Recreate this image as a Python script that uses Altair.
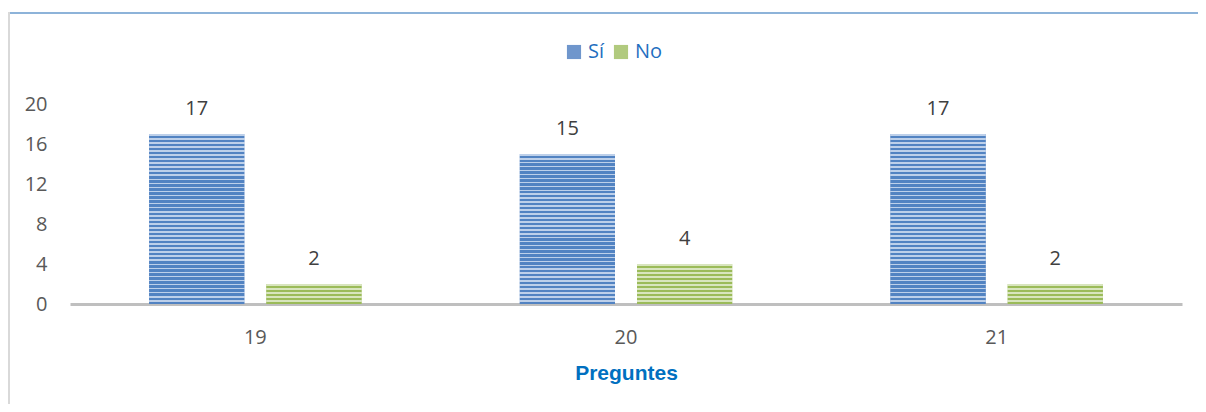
import altair as alt
import pandas as pd

preguntas = ["19", "20", "21"]
respuestas = ["Sí", "No"]
si_vals = [17, 15, 17]
no_vals = [2, 4, 2]

rows = []
for p, s, n in zip(preguntas, si_vals, no_vals):
    rows.append({"pregunta": p, "respuesta": "Sí", "valor": s})
    rows.append({"pregunta": p, "respuesta": "No", "valor": n})
df = pd.DataFrame(rows)

dark = {"Sí": "#5283C2", "No": "#9BBB59"}
light = {"Sí": "#BDD0EA", "No": "#D8E5BE"}
solid = {"Sí": "#6F96CC", "No": "#B1CA7E"}

W, H = 1112, 200

x_enc = alt.X("pregunta:N",
              scale=alt.Scale(domain=preguntas, paddingInner=0, paddingOuter=0),
              axis=alt.Axis(title="Preguntes", labelAngle=0, ticks=False,
                            domain=True, domainColor="#BFBFBF", domainWidth=3,
                            labelFont="Open Sans", labelFontSize=20,
                            labelColor="#595959", labelPadding=23,
                            titleFont="Liberation Sans", titleFontSize=21,
                            titleFontWeight="bold", titleColor="#0070C0",
                            titlePadding=15))
xo_enc = alt.XOffset("respuesta:N",
                     scale=alt.Scale(domain=respuestas, paddingInner=0.188,
                                     paddingOuter=0.675))
y_enc = alt.Y("valor:Q",
              scale=alt.Scale(domain=[0, 20], nice=False),
              axis=alt.Axis(title=None, values=[0, 4, 8, 12, 16, 20],
                            domain=False, ticks=False, grid=False,
                            labelFont="Open Sans", labelFontSize=20,
                            labelColor="#595959", labelPadding=23))

base = alt.Chart(df)

bars = base.mark_bar().encode(
    x=x_enc, xOffset=xo_enc, y=y_enc,
    color=alt.Color("respuesta:N",
                    scale=alt.Scale(domain=respuestas,
                                    range=[solid["Sí"], solid["No"]]),
                    legend=alt.Legend(title=None, orient="none",
                                      direction="horizontal",
                                      legendX=494, legendY=-62,
                                      symbolType="square", symbolSize=200,
                                      symbolStrokeWidth=0,
                                      labelFont="Open Sans", labelFontSize=20,
                                      labelColor="#1F6FC0", columnPadding=6,
                                      labelOffset=4)),
)


def stripes(r, value):
    n = max(1, round(value * 2.5))
    stops = []
    for k in range(n):
        a = k / n
        b = (k + 0.4) / n
        c = (k + 1) / n
        stops += [
            {"offset": a, "color": light[r]},
            {"offset": b, "color": light[r]},
            {"offset": b, "color": dark[r]},
            {"offset": c, "color": dark[r]},
        ]
    return {"gradient": "linear", "x1": 0, "y1": 0, "x2": 0, "y2": 1,
            "stops": stops}


layers = [bars]
for row in rows:
    layers.append(
        base.transform_filter(
            (alt.datum.pregunta == row["pregunta"]) &
            (alt.datum.respuesta == row["respuesta"])
        ).mark_bar(fill=stripes(row["respuesta"], row["valor"])).encode(
            x=x_enc, xOffset=xo_enc, y=y_enc)
    )

labels = base.mark_text(dy=-19, baseline="alphabetic", font="Open Sans",
                        fontSize=20, color="#404040").encode(
    x=x_enc, xOffset=xo_enc, y=y_enc, text="valor:Q")
layers.append(labels)

top_border = alt.Chart(df).mark_rule(color="#8DB3D9", strokeWidth=2).encode(
    x=alt.value(-62), x2=alt.value(W + 30), y=alt.value(-91))
left_border = alt.Chart(df).mark_rule(color="#D9D9D9", strokeWidth=3).encode(
    x=alt.value(-61.5), y=alt.value(-92), y2=alt.value(H + 110))
layers += [top_border, left_border]

chart = alt.layer(*layers).properties(
    width=W, height=H,
    autosize=alt.AutoSizeParams(type="none"),
    padding={"left": 62, "top": 96, "right": 16, "bottom": 100},
).configure_view(stroke=None)

chart.save("out.html", embed_options={"renderer": "svg", "actions": False})
